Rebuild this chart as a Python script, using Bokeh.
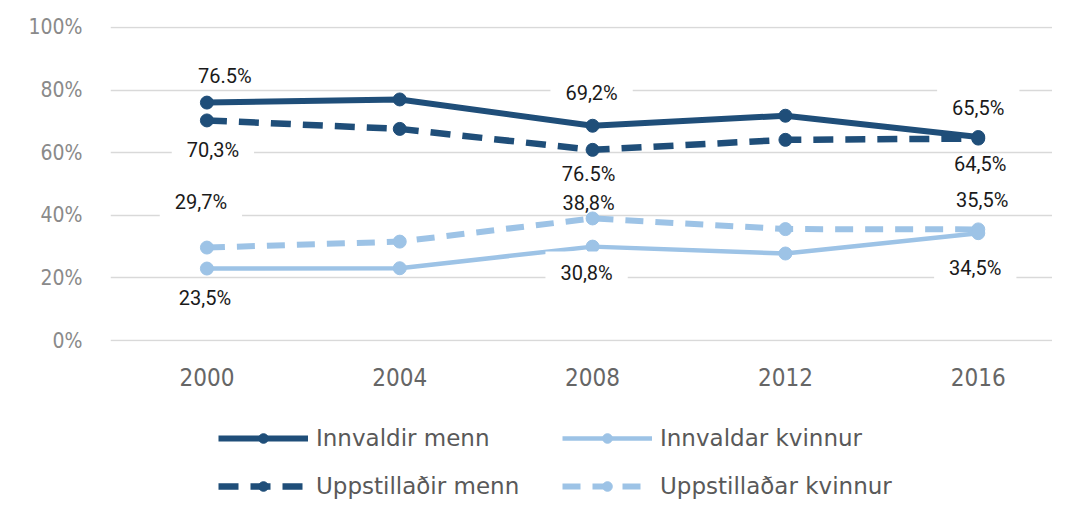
from bokeh.plotting import figure
from bokeh.layouts import column
from bokeh.models import (Range1d, FixedTicker, Legend, LegendItem, ColumnDataSource)
from bokeh.core.properties import value
from bokeh.embed import file_html
from bokeh.resources import INLINE

# ---- data ----
years = [2000, 2004, 2008, 2012, 2016]
innvaldir_menn = [76.0, 77.0, 68.6, 71.8, 65.0]
uppstilladir_menn = [70.3, 67.6, 60.9, 64.1, 64.5]
innvaldar_kvinnur = [23.0, 23.1, 30.0, 27.8, 34.3]
uppstilladar_kvinnur = [29.7, 31.6, 39.0, 35.6, 35.5]

series_names = ["Innvaldir menn", "Innvaldar kvinnur", "Uppstillaðir menn", "Uppstillaðar kvinnur"]
y_ticks = [0, 20, 40, 60, 80, 100]
y_tick_labels = ["0%", "20%", "40%", "60%", "80%", "100%"]
x_tick_labels = ["2000", "2004", "2008", "2012", "2016"]

# data labels: text, year index, series key
label_texts = ["76.5%", "70,3%", "29,7%", "23,5%",
               "69,2%", "76.5%", "38,8%", "30,8%",
               "65,5%", "64,5%", "35,5%", "34,5%"]
label_year_idx = [0, 0, 0, 0, 2, 2, 2, 2, 4, 4, 4, 4]
label_series = ["IM", "UM", "UK", "IK", "IM", "UM", "UK", "IK", "IM", "UM", "UK", "IK"]

# ---- styles ----
DARK = "#1f4e79"
LIGHT = "#9dc3e6"
label_dx = [18, 6, -6, -2, -1, -4, -4, -6, 0, 2, 4, -3]
label_dy = [-27, 30, -46, 29, -33, 24, -15, 26, -29, 25, -29, 35]
label_boxed = [False, True, True, False, True, False, False, True, True, False, False, True]

series_map = {"IM": innvaldir_menn, "UM": uppstilladir_menn,
              "IK": innvaldar_kvinnur, "UK": uppstilladar_kvinnur}

W = 1052
MAIN_H = 400
LEG_H = 99

p = figure(width=W, height=MAIN_H, output_backend="svg", toolbar_location=None,
           x_range=Range1d(1998, 2017.54), y_range=Range1d(-0.3, 100.3),
           min_border_left=110, min_border_right=0, min_border_top=26,
           min_border_bottom=59)
p.outline_line_color = None
p.background_fill_color = "white"
p.border_fill_color = "white"

p.xgrid.visible = False
p.ygrid.grid_line_color = "#d9d9d9"
p.ygrid.grid_line_width = 1.5

p.yaxis.ticker = FixedTicker(ticks=y_ticks)
p.yaxis.major_label_overrides = {t: l for t, l in zip(y_ticks, y_tick_labels)}
p.xaxis.ticker = FixedTicker(ticks=years)
p.xaxis.major_label_overrides = {y: l for y, l in zip(years, x_tick_labels)}
for ax in (p.xaxis, p.yaxis):
    ax.axis_line_color = None
    ax.major_tick_line_color = None
    ax.minor_tick_line_color = None
    ax.major_tick_out = 0
    ax.minor_tick_out = 0
    ax.major_label_text_font = "DejaVu Sans Condensed"
p.yaxis.major_label_text_font_size = "21px"
p.yaxis.major_label_text_color = "#8a8a8a"
p.yaxis.major_label_standoff = 28
p.xaxis.major_label_text_font_size = "24px"
p.xaxis.major_label_text_color = "#666666"
p.xaxis.major_label_standoff = 26

def add_series(fig, xs, vals, color, dash, lw, msize):
    src = ColumnDataSource(dict(x=xs, y=vals))
    lr = fig.line("x", "y", source=src, line_color=color, line_width=lw, line_dash=dash)
    sr = fig.scatter("x", "y", source=src, marker="circle", size=msize,
                     fill_color=color, line_color=color)
    return [lr, sr]

STYLES = {"IM": (DARK, "solid", 6), "UM": (DARK, "20 12", 6.5),
          "UK": (LIGHT, "18 12", 6), "IK": (LIGHT, "solid", 4.5)}
for key in ["IM", "UM", "UK", "IK"]:
    c, d, w = STYLES[key]
    add_series(p, years, series_map[key], c, d, w, 13)

# data labels
lx = [years[i] for i in label_year_idx]
ly = [series_map[s][i] for s, i in zip(label_series, label_year_idx)]
def text_src(flag):
    idx = [k for k, b in enumerate(label_boxed) if b == flag]
    return ColumnDataSource(dict(x=[lx[k] for k in idx], y=[ly[k] for k in idx],
                                 t=[label_texts[k] for k in idx],
                                 dx=[label_dx[k] for k in idx],
                                 dy=[label_dy[k] for k in idx]))

LABEL_FONT = value("Roboto")
p.text("x", "y", text="t", source=text_src(True), x_offset="dx", y_offset="dy",
       text_align="center", text_baseline="middle",
       text_font=LABEL_FONT, text_font_size="20px",
       text_color="#1a1a1a", background_fill_color="white", padding=(15, 9))
p.text("x", "y", text="t", source=text_src(False), x_offset="dx", y_offset="dy",
       text_align="center", text_baseline="middle",
       text_font=LABEL_FONT, text_font_size="20px",
       text_color="#1a1a1a")

# ---- legend strip: same series drawn off-range so only the legend shows ----
lp = figure(width=W, height=LEG_H, output_backend="svg", toolbar_location=None,
            x_range=Range1d(0, 1), y_range=Range1d(0, 1),
            x_axis_type=None, y_axis_type=None,
            min_border_left=110, min_border_right=0,
            min_border_top=0, min_border_bottom=0)
lp.outline_line_color = None
lp.xgrid.visible = False
lp.ygrid.visible = False
leg_r = {}
for key in ["IM", "UM", "UK", "IK"]:
    c, d, w = STYLES[key]
    leg_r[key] = add_series(lp, years, series_map[key], c, d, w, 13)

def make_legend(items, loc):
    return Legend(items=items, location=loc, orientation="horizontal",
                  glyph_width=90, glyph_height=24, label_height=26,
                  label_width=246, label_standoff=8, spacing=0,
                  padding=0, margin=0, border_line_color=None,
                  background_fill_alpha=0,
                  label_text_font="DejaVu Sans", label_text_font_size="23px",
                  label_text_color="#595959")

lg1 = make_legend([LegendItem(label=series_names[0], renderers=leg_r["IM"]),
                   LegendItem(label=series_names[1], renderers=leg_r["IK"])], (108, 48))
lg2 = make_legend([LegendItem(label=series_names[2], renderers=leg_r["UM"]),
                   LegendItem(label=series_names[3], renderers=leg_r["UK"])], (108, 0))
lp.add_layout(lg1, "center")
lp.add_layout(lg2, "center")

layout = column(p, lp, spacing=0)
open("out.html", "w").write(file_html(layout, INLINE))
